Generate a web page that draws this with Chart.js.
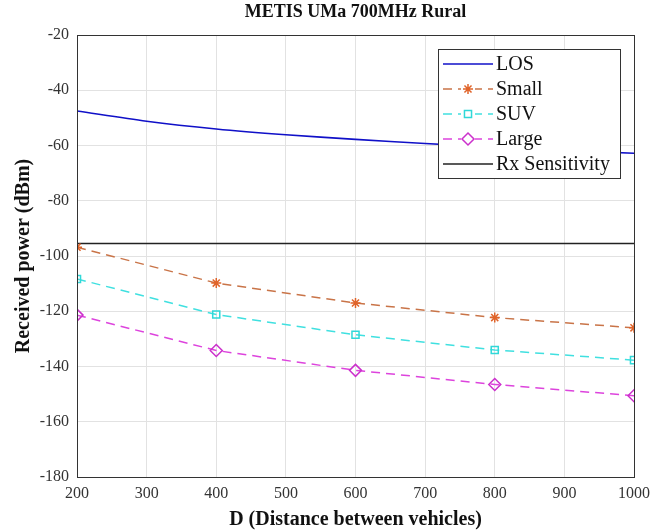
<!DOCTYPE html>
<html>
<head>
<meta charset="utf-8">
<title>METIS UMa 700MHz Rural</title>
<script src="https://cdn.jsdelivr.net/npm/chart.js@4/dist/chart.umd.min.js"></script>
<style>
  html, body { margin: 0; padding: 0; background: #fff; }
  #wrap { width: 653px; height: 530px; }
</style>
</head>
<body>
<div id="wrap"><canvas id="myChart" width="653" height="530"></canvas></div>
<script>
"use strict";

/********/
/* data */
/********/
const losDistance = [200, 300, 400, 500, 600, 700, 800, 900, 1000];
const losPower = [-47.5, -51.2, -54.0, -56.1, -57.8, -59.3, -60.6, -61.8, -62.8];

const distance = [200, 400, 600, 800, 1000];
const smallPower = [-96.8, -109.8, -117.0, -122.3, -126.0];
const suvPower = [-108.3, -121.2, -128.5, -134.0, -137.7];
const largePower = [-121.4, -134.2, -141.4, -146.5, -150.6];

const rxDistance = [200, 1000];
const rxSensitivity = [-95.5, -95.5];

const xTicks = [200, 300, 400, 500, 600, 700, 800, 900, 1000];
const yTicks = [-20, -40, -60, -80, -100, -120, -140, -160, -180];

const seriesNames = ["LOS", "Small", "SUV", "Large", "Rx Sensitivity"];

/***********/
/* methods */
/***********/
function toPoints(xs, ys) {
	// pair up the x and y arrays
	return xs.map((x, i) => ({ x: x, y: ys[i] }));
}

const serif = "'Liberation Serif', 'DejaVu Serif', serif";

// draws the title, the box round the plot and the legend
const framePlugin = {
	id: "frame",
	afterDraw(chart) {
		const ctx = chart.ctx;
		const area = chart.chartArea;
		ctx.save();
		// box round the plot area
		ctx.strokeStyle = "#333";
		ctx.lineWidth = 1;
		ctx.strokeRect(Math.round(area.left) + 0.5, Math.round(area.top) + 0.5,
			Math.round(area.right - area.left), Math.round(area.bottom - area.top));

		// title
		ctx.fillStyle = "#111";
		ctx.font = "bold 18px " + serif;
		ctx.textAlign = "center";
		ctx.textBaseline = "middle";
		ctx.fillText("METIS UMa 700MHz Rural", (area.left + area.right) / 2, 12);

		// legend
		const lx = 438, ly = 49, lw = 182, lh = 129;
		ctx.fillStyle = "#fff";
		ctx.fillRect(lx, ly, lw, lh);
		ctx.strokeStyle = "#333";
		ctx.strokeRect(lx + 0.5, ly + 0.5, lw, lh);
		ctx.font = "20px " + serif;
		ctx.textAlign = "left";
		chart.data.datasets.forEach((ds, i) => {
			const y = ly + 15 + i * 25;
			ctx.strokeStyle = ds.borderColor;
			ctx.lineWidth = ds.borderWidth;
			ctx.setLineDash(ds.borderDash || []);
			ctx.beginPath();
			ctx.moveTo(lx + 5, y);
			ctx.lineTo(lx + 55, y);
			ctx.stroke();
			ctx.setLineDash([]);
			if (ds.pointStyle && ds.pointRadius > 0) {
				ctx.fillStyle = "#fff";
				ctx.fillRect(lx + 30 - 7, y - 7, 14, 14);
				ctx.strokeStyle = ds.pointBorderColor;
				ctx.lineWidth = ds.pointBorderWidth;
				Chart.helpers.drawPoint(ctx, {
					pointStyle: ds.pointStyle,
					radius: ds.pointRadius,
					rotation: 0,
					borderWidth: ds.pointBorderWidth
				}, lx + 30, y);
			}
			ctx.fillStyle = "#111";
			ctx.fillText(seriesNames[i], lx + 58, y + 1);
		});
		ctx.restore();
	}
};

function buildChart() {
	const ctx = document.getElementById("myChart").getContext("2d");
	new Chart(ctx, {
		type: "line",
		data: {
			datasets: [{
				label: seriesNames[0],
				data: toPoints(losDistance, losPower),
				borderColor: "#1010c8",
				borderWidth: 1.6,
				pointRadius: 0,
				tension: 0.3
			}, {
				label: seriesNames[1],
				data: toPoints(distance, smallPower),
				borderColor: "#c97448",
				borderWidth: 1.5,
				borderDash: [9, 6],
				pointStyle: "star",
				pointRadius: 5,
				pointBorderColor: "#e0642a",
				pointBorderWidth: 1.5,
				pointBackgroundColor: "rgba(0,0,0,0)"
			}, {
				label: seriesNames[2],
				data: toPoints(distance, suvPower),
				borderColor: "#40e0e0",
				borderWidth: 1.5,
				borderDash: [9, 6],
				pointStyle: "rect",
				pointRadius: 5,
				pointBorderColor: "#30d8d8",
				pointBorderWidth: 1.5,
				pointBackgroundColor: "rgba(0,0,0,0)"
			}, {
				label: seriesNames[3],
				data: toPoints(distance, largePower),
				borderColor: "#dd44dd",
				borderWidth: 1.5,
				borderDash: [9, 6],
				pointStyle: "rectRot",
				pointRadius: 6,
				pointBorderColor: "#cc30cc",
				pointBorderWidth: 1.5,
				pointBackgroundColor: "rgba(0,0,0,0)"
			}, {
				label: seriesNames[4],
				data: toPoints(rxDistance, rxSensitivity),
				borderColor: "#222",
				borderWidth: 1.5,
				pointRadius: 0
			}]
		},
		options: {
			responsive: false,
			animation: false,
			layout: { padding: { top: 35, right: 19, left: 0, bottom: 0 } },
			plugins: {
				legend: { display: false },
				tooltip: { enabled: false },
				title: { display: false }
			},
			scales: {
				x: {
					type: "linear",
					min: 200,
					max: 1000,
					afterFit(scale) {
						// fixed height, and let the last label hang into the padding
						scale.height = 53;
						scale.paddingLeft = 0;
						scale.paddingRight = 0;
					},
					afterBuildTicks(scale) { scale.ticks = xTicks.map(v => ({ value: v })); },
					grid: { color: "#e2e2e2", drawTicks: false },
					border: { display: true, color: "#333" },
					ticks: {
						padding: 7,
						color: "#333",
						font: { family: serif, size: 16 },
						maxRotation: 0,
						callback: v => String(v)
					},
					title: {
						display: true,
						text: "D (Distance between vehicles)",
						color: "#111",
						font: { family: serif, size: 20, weight: "bold", lineHeight: 1.0 },
						padding: { top: 0, bottom: 0 }
					}
				},
				y: {
					min: -180,
					max: -20,
					afterFit(scale) { scale.width = 77; },
					afterBuildTicks(scale) { scale.ticks = yTicks.map(v => ({ value: v })); },
					grid: { color: "#e2e2e2", drawTicks: false },
					border: { display: true, color: "#333" },
					ticks: {
						padding: 8,
						color: "#333",
						font: { family: serif, size: 16 },
						callback: v => String(v)
					},
					title: {
						display: true,
						text: "Received power (dBm)",
						color: "#111",
						font: { family: serif, size: 20, weight: "bold" },
						padding: { top: 12, bottom: 0 }
					}
				}
			}
		},
		plugins: [framePlugin]
	});
}

/********/
/* MAIN */
/********/
(function main() {
	buildChart();
})();
</script>
</body>
</html>
